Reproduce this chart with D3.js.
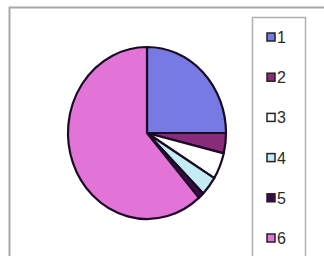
<!DOCTYPE html>
<html>
<head>
<meta charset="utf-8">
<script src="https://cdn.jsdelivr.net/npm/d3@7"></script>
<style>
  body { margin: 0; background: #fff; }
  svg { display: block; font-family: "Liberation Sans", Arial, sans-serif; }
</style>
</head>
<body>
<div id="chart"></div>
<script>
// datos
const categorias = ["1", "2", "3", "4", "5", "6"];
const valores = [25, 3.8, 5, 3.6, 1.2, 61.4];
const colores = ["#767ae2", "#8a2a7a", "#ffffff", "#c4ecf4", "#3c0a4c", "#e274d8"];

const W = 324, H = 256;
const cx = 147, cy = 133, rx = 79, ry = 86;

const svg = d3.select("#chart").append("svg")
  .attr("width", W).attr("height", H);

// marco exterior
svg.append("rect")
  .attr("x", 9.5).attr("y", 7.5)
  .attr("width", 330).attr("height", 270)
  .attr("fill", "#fff").attr("stroke", "#a8a8a8").attr("stroke-width", 2);

const pie = d3.pie().sort(null).value(d => d)(valores);
const arc = d3.arc().innerRadius(0).outerRadius(rx);

const g = svg.append("g")
  .attr("transform", `translate(${cx},${cy}) scale(1,${ry / rx})`);

g.selectAll("path")
  .data(pie)
  .enter()
  .append("path")
  .attr("d", arc)
  .attr("fill", (d, i) => colores[i])
  .attr("stroke", "#1a0a24")
  .attr("stroke-width", 2.2)
  .attr("vector-effect", "non-scaling-stroke")
  .attr("stroke-linejoin", "round");

// leyenda
svg.append("rect")
  .attr("x", 252.5).attr("y", 17.5)
  .attr("width", 53).attr("height", 260)
  .attr("fill", "#fff").attr("stroke", "#b0b0b0").attr("stroke-width", 1.5);

const y = d3.scalePoint().domain(categorias).range([37, 238]);

const items = svg.selectAll(".item")
  .data(categorias)
  .enter()
  .append("g")
  .attr("transform", d => `translate(0,${y(d)})`);

items.append("rect")
  .attr("x", 267).attr("y", -4)
  .attr("width", 8).attr("height", 8)
  .attr("fill", (d, i) => colores[i])
  .attr("stroke", "#222")
  .attr("stroke-width", 1.5);

items.append("text")
  .attr("x", 277).attr("y", 6)
  .attr("font-size", 16)
  .attr("fill", "#2a2a2a")
  .text(d => d);
</script>
</body>
</html>
